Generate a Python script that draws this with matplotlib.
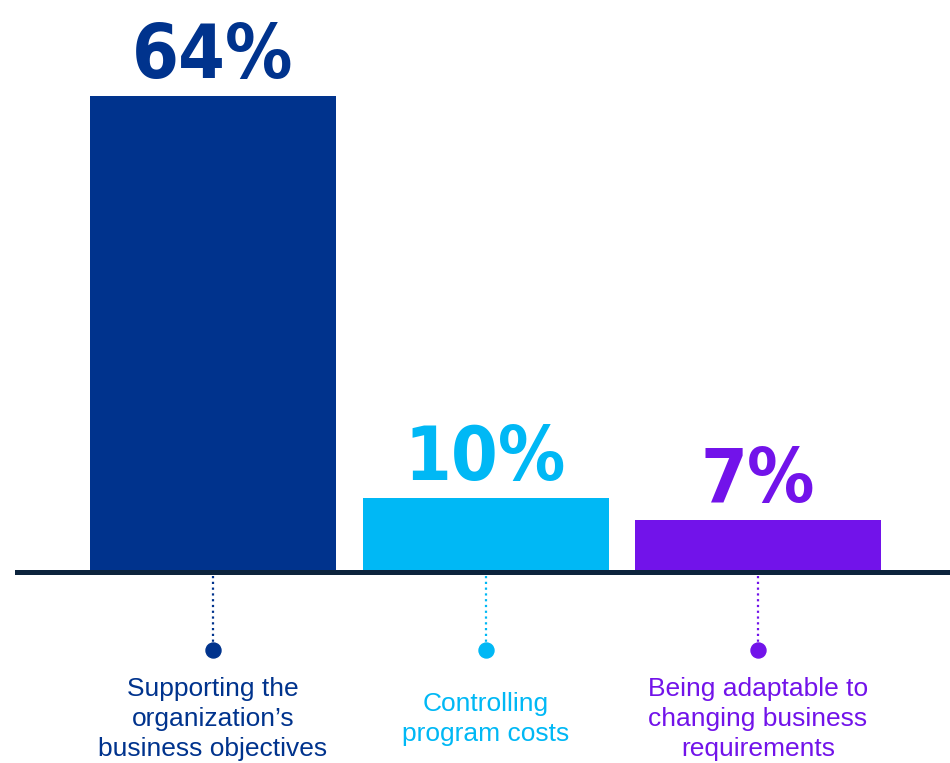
import matplotlib
matplotlib.use("Agg")
import matplotlib.pyplot as plt
from matplotlib import font_manager

categories = [
    "Supporting the\norganization\u2019s\nbusiness objectives",
    "Controlling\nprogram costs",
    "Being adaptable to\nchanging business\nrequirements",
]
values = [64, 10, 7]
value_labels = ["64%", "10%", "7%"]
colors = ["#00338D", "#00B8F5", "#7213EA"]
baseline_color = "#0C233C"

# pick the narrowest bold face that is installed
fonts = font_manager.fontManager.ttflist
narrow = [f for f in fonts
          if str(f.stretch) in ("condensed", "semi-condensed", "extra-condensed",
                                "ultra-condensed", "narrow")
          or "Narrow" in f.name or "Condensed" in f.name]
bold_narrow = [f for f in narrow if f.weight in ("bold", 700, "heavy", 800, 900, "black")
               or "Bold" in f.fname]
if bold_narrow:
    pct_prop = font_manager.FontProperties(fname=sorted(bold_narrow, key=lambda f: f.fname)[0].fname)
else:
    pct_prop = font_manager.FontProperties(family="DejaVu Sans", weight="bold", stretch="condensed")

names = {f.name for f in fonts}
label_font = "Liberation Sans" if "Liberation Sans" in names else "DejaVu Sans"

W, H = 950, 763
fig = plt.figure(figsize=(W / 100, H / 100), dpi=100)
fig.patch.set_facecolor("white")

# pixel geometry of the plotting area
left_px, right_px = 15, 950
base_px = 572
px_per_unit = 476 / 64.0
spacing = 272.5
first_center = 213

ax = fig.add_axes([left_px / W, 0, (right_px - left_px) / W, 1])
ax.set_xlim(-(first_center - left_px) / spacing, 2 + (right_px - (first_center + 2 * spacing)) / spacing)
ax.set_ylim(-(H - base_px) / px_per_unit, base_px / px_per_unit)
ax.axis("off")

x = list(range(len(values)))
ax.bar(x, values, width=246 / spacing, color=colors, zorder=2)
ax.axhline(0, color=baseline_color, lw=3.6, zorder=3)

def py(px):
    return -(px - base_px) / px_per_unit

for xi, v, lab, c, cat in zip(x, values, value_labels, colors, categories):
    ax.annotate(lab, (xi, v), xytext=(0, 13), textcoords="offset points",
                ha="center", va="baseline", fontproperties=pct_prop,
                fontsize=54, color=c)
    ax.plot([xi, xi], [py(576), py(642)], color=c, lw=1.6, ls=(0, (1, 1.6)), zorder=2)
    ax.plot([xi], [py(650)], "o", ms=10.8, color=c, zorder=3)
    ax.text(xi, py(719), cat, ha="center", va="center", fontsize=19,
            family=label_font, color=c, linespacing=1.34)

fig.savefig("out.png", dpi=100, facecolor="white")
